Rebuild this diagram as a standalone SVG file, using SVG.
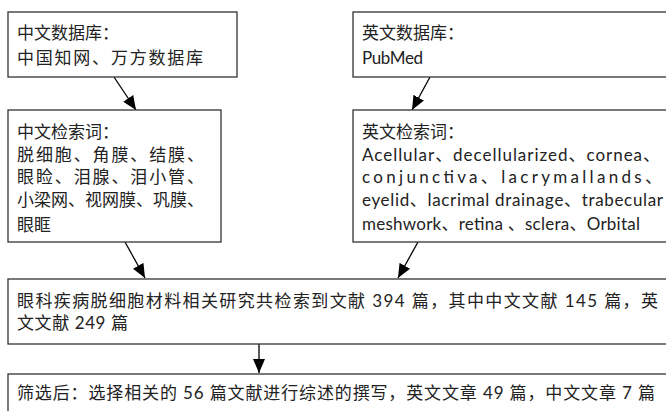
<svg xmlns="http://www.w3.org/2000/svg" width="666" height="411" viewBox="0 0 666 411">
<style>
.box{fill:#fff;stroke:#333;stroke-width:1.3}
.t{font-family:Lato,"Noto Sans CJK SC",sans-serif;font-size:17px;fill:#222}
.c{stroke:#000;stroke-width:1.3;fill:none;marker-end:url(#ah)}
</style>
<defs>
<marker id="ah" markerUnits="userSpaceOnUse" markerWidth="14" markerHeight="12" viewBox="0 0 14 12" refX="14" refY="6" orient="auto">
<path d="M0,0 L14,6 L0,12 z" fill="#000"/>
</marker>
</defs>
<rect width="666" height="411" fill="#fff"/>
<g id="connectors">
<line class="c" x1="114" y1="77" x2="136" y2="110"/>
<line class="c" x1="430" y1="77" x2="412" y2="110"/>
<line class="c" x1="125" y1="242" x2="145" y2="278"/>
<line class="c" x1="418" y1="242" x2="398" y2="278"/>
<line class="c" x1="259" y1="344" x2="259" y2="373"/>
</g>
<g id="cn-db">
<rect class="box" x="8" y="12" width="229" height="65"/>
<text class="t" x="17" y="39">中文数据库：</text>
<text class="t" x="17" y="64" textLength="186" lengthAdjust="spacing">中国知网、万方数据库</text>
</g>
<g id="en-db">
<rect class="box" x="353" y="12" width="400" height="65"/>
<text class="t" x="362" y="39">英文数据库：</text>
<text class="t" x="362" y="64" textLength="61" lengthAdjust="spacing">PubMed</text>
</g>
<g id="cn-terms">
<rect class="box" x="8" y="110" width="213" height="132"/>
<text class="t" x="17" y="138">中文检索词：</text>
<text class="t" x="17" y="160.5" textLength="187" lengthAdjust="spacing">脱细胞、角膜、结膜、</text>
<text class="t" x="17" y="183" textLength="187" lengthAdjust="spacing">眼睑、泪腺、泪小管、</text>
<text class="t" x="17" y="205.5" textLength="187" lengthAdjust="spacing">小梁网、视网膜、巩膜、</text>
<text class="t" x="17" y="231">眼眶</text>
</g>
<g id="en-terms">
<rect class="box" x="353" y="110" width="400" height="132"/>
<text class="t" x="362" y="138">英文检索词：</text>
<text class="t" x="362" y="160.5" textLength="298" lengthAdjust="spacing">Acellular、decellularized、cornea、</text>
<text class="t" x="362" y="183" textLength="300" lengthAdjust="spacing">conjunctiva、lacrymallands、</text>
<text class="t" x="362" y="205.5" textLength="301" lengthAdjust="spacing">eyelid、lacrimal drainage、trabecular</text>
<text class="t" x="362" y="230" textLength="278" lengthAdjust="spacing">meshwork、retina 、sclera、Orbital</text>
</g>
<g id="total">
<rect class="box" x="8" y="279" width="700" height="65"/>
<text class="t" x="17" y="306.5" textLength="641" lengthAdjust="spacing">眼科疾病脱细胞材料相关研究共检索到文献 394 篇，其中中文文献 145 篇，英</text>
<text class="t" x="17" y="329" textLength="111" lengthAdjust="spacing">文文献 249 篇</text>
</g>
<g id="selected">
<rect class="box" x="8" y="374" width="700" height="60"/>
<text class="t" x="17" y="399" textLength="638" lengthAdjust="spacing">筛选后：选择相关的 56 篇文献进行综述的撰写，英文文章 49 篇，中文文章 7 篇</text>
</g>
</svg>
